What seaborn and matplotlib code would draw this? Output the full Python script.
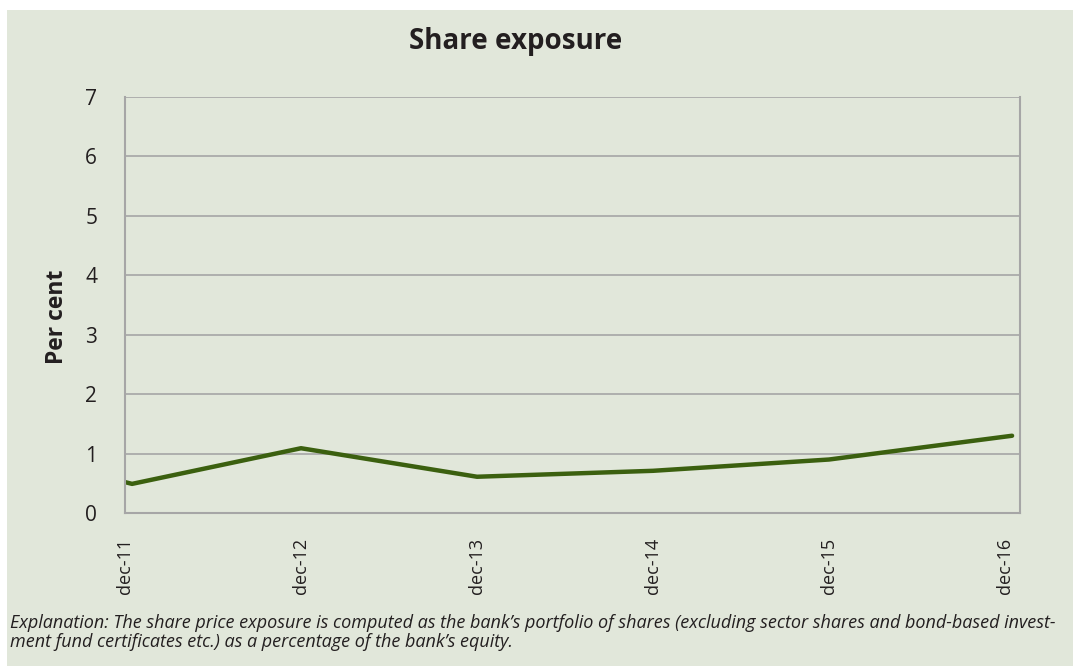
import pandas as pd
import seaborn as sns
import matplotlib.pyplot as plt
from matplotlib.patches import Rectangle

# years since dec-11
year_pos = [0.0, 0.04, 1.0, 2.0, 3.0, 4.0, 5.04]
share_exposure = [0.52, 0.49, 1.09, 0.61, 0.71, 0.90, 1.30]
tick_labels = ["dec-11", "dec-12", "dec-13", "dec-14", "dec-15", "dec-16"]

BG = "#E1E7DA"
GRID = "#A6A6A6"
TEXT = "#231F20"
LINE = "#3B600F"

sns.set_theme(style="white")
plt.rcParams['font.family'] = ['Open Sans', 'DejaVu Sans']

df = pd.DataFrame({"x": year_pos, "y": share_exposure})

fig = plt.figure(figsize=(10.73, 6.66), dpi=100, facecolor="white")
fig.patches.append(Rectangle((7 / 1073, 0), 1, 1 - 10 / 666, transform=fig.transFigure,
                             facecolor=BG, edgecolor="none", zorder=-10))
ax = fig.add_axes([125 / 1073, 1 - 513 / 666, (1020 - 125) / 1073, (513 - 97) / 666])
ax.set_facecolor(BG)

sns.lineplot(data=df, x="x", y="y", ax=ax, color=LINE, linewidth=3.2)

ax.set_xlim(0, 5.085)
ax.set_ylim(0, 7)
ax.set_yticks(range(0, 8))
ax.set_xticks(range(len(tick_labels)))
ax.set_xticklabels(tick_labels, rotation=90, fontsize=13, color=TEXT)
ax.tick_params(axis="y", labelsize=15, labelcolor=TEXT, length=7, color=GRID, width=1.2, pad=13)
ax.tick_params(axis="x", length=6, color=GRID, width=1.2, pad=12)
ax.yaxis.grid(True, color=GRID, linewidth=1.2)
ax.set_axisbelow(True)
for side in ["left", "bottom", "right"]:
    ax.spines[side].set_color(GRID)
    ax.spines[side].set_linewidth(1.5)
ax.spines["top"].set_visible(False)

ax.set_xlabel("")
ax.set_ylabel("Per cent", fontsize=16.5, fontweight="bold", color=TEXT)
ax.yaxis.set_label_coords((69 - 125) / 895, (513 - 317) / 416)

fig.text(516 / 1073, 1 - 42 / 666, "Share exposure", ha="center", va="center",
         fontsize=20, fontweight="bold", color=TEXT)

note = ("Explanation: The share price exposure is computed as the bank\u2019s portfolio of shares "
        "(excluding sector shares and bond-based invest-\n"
        "ment fund certificates etc.) as a percentage of the bank\u2019s equity.")
fig.text(10 / 1073, 1 - 614 / 666, note, ha="left", va="top", fontsize=12.95,
         style="italic", color=TEXT, linespacing=1.1)

fig.savefig("out.png", dpi=100, facecolor="white")
